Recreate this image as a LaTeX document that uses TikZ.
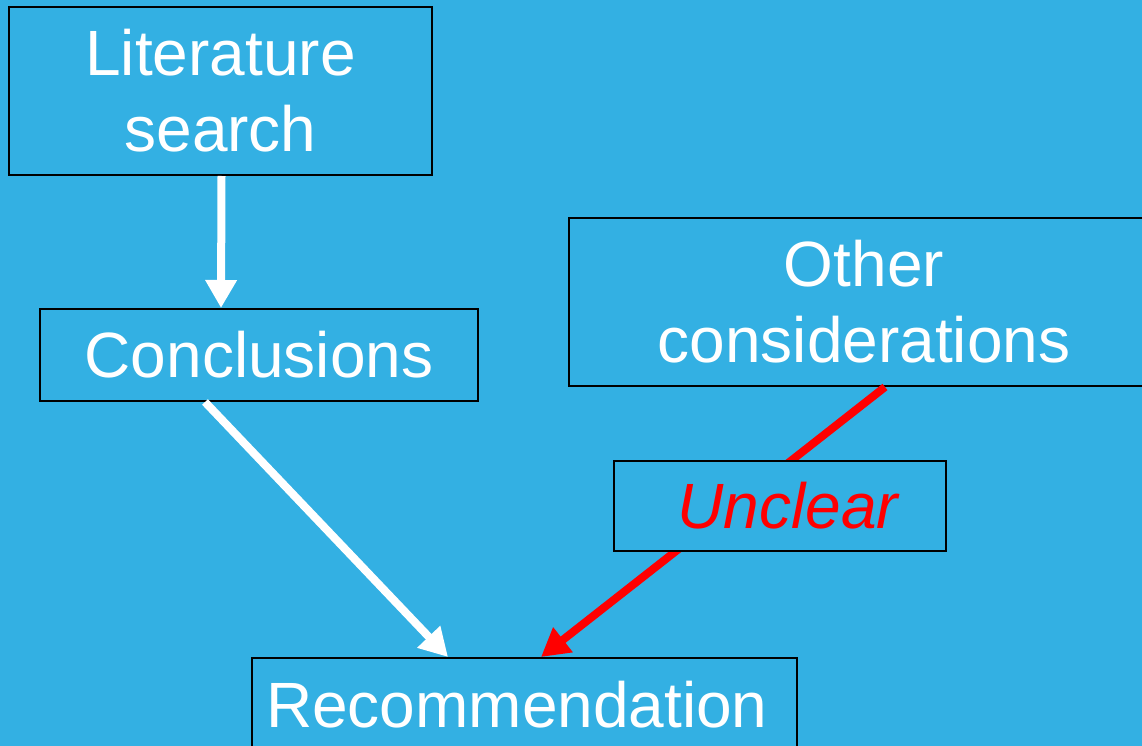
\documentclass[tikz,border=0pt]{standalone}
\usepackage{fontspec}
\setmainfont{Liberation Sans}
\usetikzlibrary{arrows.meta}
\definecolor{bgblue}{RGB}{51,176,227}
\definecolor{pred}{RGB}{255,0,0}
\tikzset{
  boxnode/.style={draw=black, line width=2pt, fill=bgblue, text=white, align=center,
    font=\fontsize{64}{76}\selectfont, inner sep=0pt},
  whitearrow/.style={draw=white, line width=8pt, -{Triangle[width=30pt,length=28pt]}},
  redarrow/.style={draw=pred, line width=8pt, -{Triangle[width=30pt,length=28pt]}}
}
\begin{document}
\begin{tikzpicture}[x=1pt,y=-1pt]
\path[use as bounding box, fill=bgblue] (0,0) rectangle (1142,746);
\begin{scope}
\clip (0,0) rectangle (1142,746);
\node[boxnode, minimum width=423pt, minimum height=168pt] (lit) at (220.5,91) {Literature\\search};
\node[boxnode, minimum width=438pt, minimum height=92pt] (concl) at (259,355) {Conclusions};
\node[boxnode, minimum width=590pt, minimum height=168pt] (other) at (864,302) {Other\\considerations};
\node[boxnode, anchor=north west, text width=517pt, align=left, inner xsep=14pt, inner ysep=23pt,
  text height=46pt, text depth=0pt] (rec) at (251,657) {Recommendation};
\draw[redarrow] ([xshift=21pt]other.south) -- ([xshift=16.5pt]rec.north);
\node[boxnode, minimum width=332pt, minimum height=90pt, text=pred, font=\fontsize{64}{76}\selectfont\itshape] (unc) at (780,506) {\hspace*{16pt}Unclear};
\draw[whitearrow] ([xshift=1pt]lit.south) -- ([xshift=-38pt]concl.north);
\draw[whitearrow] ([xshift=-54pt]concl.south) -- ([xshift=-76.5pt]rec.north);
\end{scope}
\end{tikzpicture}
\end{document}
